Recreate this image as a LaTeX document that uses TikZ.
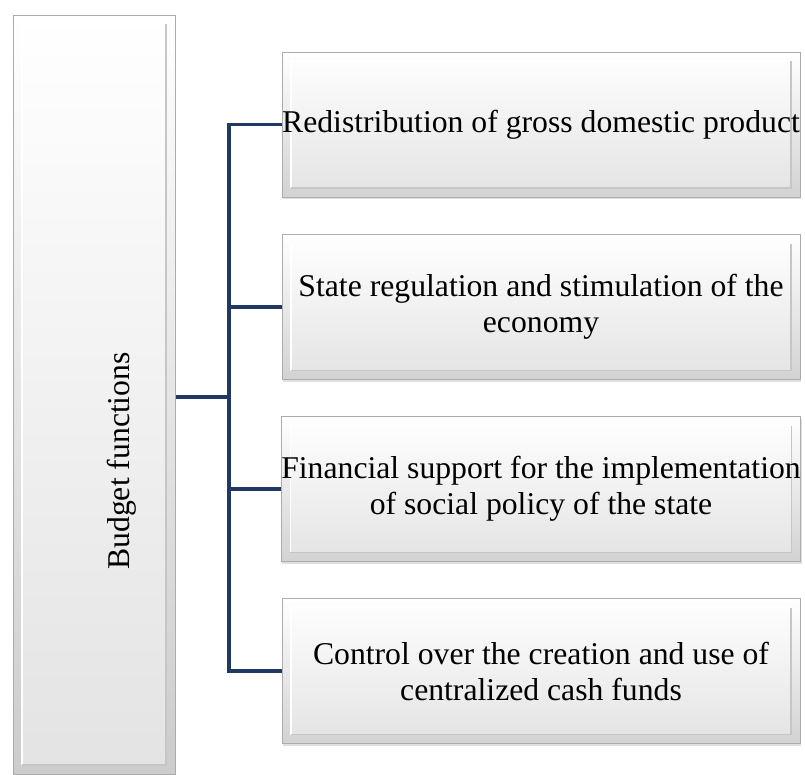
\documentclass[tikz,border=0pt]{standalone}
\usepackage{fontspec}
\setmainfont{Liberation Serif}
\usetikzlibrary{positioning}
\usetikzlibrary{shadows}
\definecolor{connblue}{RGB}{31,56,100}
\tikzset{
    bevel/.style = {path picture={
        \fill[top color=white,bottom color=gray!22]
          ([shift={(9pt,-9pt)}]path picture bounding box.north west) rectangle
          ([shift={(-9pt,9pt)}]path picture bounding box.south east);
        \draw[white,line width=1.2pt]
          ([shift={(9pt,9pt)}]path picture bounding box.south west) --
          ([shift={(9pt,-9pt)}]path picture bounding box.north west) --
          ([shift={(-9pt,-9pt)}]path picture bounding box.north east);
        \draw[gray!45,line width=1.2pt]
          ([shift={(-9pt,-9pt)}]path picture bounding box.north east) --
          ([shift={(-9pt,9pt)}]path picture bounding box.south east) --
          ([shift={(9pt,9pt)}]path picture bounding box.south west);}},
    funcbox/.style = {rectangle, draw=gray!65, line width=1pt, bevel,
        top color=white, bottom color=gray!35, inner sep=0pt, align=center,
        minimum width=518pt, minimum height=145pt,
        drop shadow={opacity=0.25,shadow xshift=1pt,shadow yshift=-2pt},
        font=\fontsize{31.7}{36}\selectfont},
    mainbox/.style = {rectangle, draw=gray!65, line width=1pt, bevel,
        top color=white, bottom color=gray!40, inner sep=0pt,
        minimum width=162pt, minimum height=759pt},
    mainlabel/.style = {rotate=90, inner sep=0pt, font=\fontsize{31.7}{36}\selectfont},
    conn/.style = {connblue, line width=3.5pt}
}

\begin{document}
\begin{tikzpicture}[x=1pt,y=-1pt]
\useasboundingbox (0,0) rectangle (805,774);
\node[mainbox] at (94.0, 394.5) (budget) {};
\node[mainlabel] at (122.0, 461.0) (budgetlbl) {Budget functions};
\node[funcbox] at (541.0, 124.5) (f1) {Redistribution of gross domestic product};
\node[funcbox] at (541.0, 307.0) (f2) {State regulation and stimulation of the\\economy};
\node[funcbox] at (541.0, 489.0) (f3) {Financial support for the implementation\\of social policy of the state};
\node[funcbox] at (541.0, 671.0) (f4) {Control over the creation and use of\\centralized cash funds};
\coordinate (hub) at (229.0, 397.0);
%
\draw[conn] (budget.east |- hub) -- (hub);
\draw[conn] (f1.west) -| (hub) |- (f4.west);
\draw[conn] (hub |- f2.west) -- (f2.west);
\draw[conn] (hub |- f3.west) -- (f3.west);
\end{tikzpicture}
\end{document}
